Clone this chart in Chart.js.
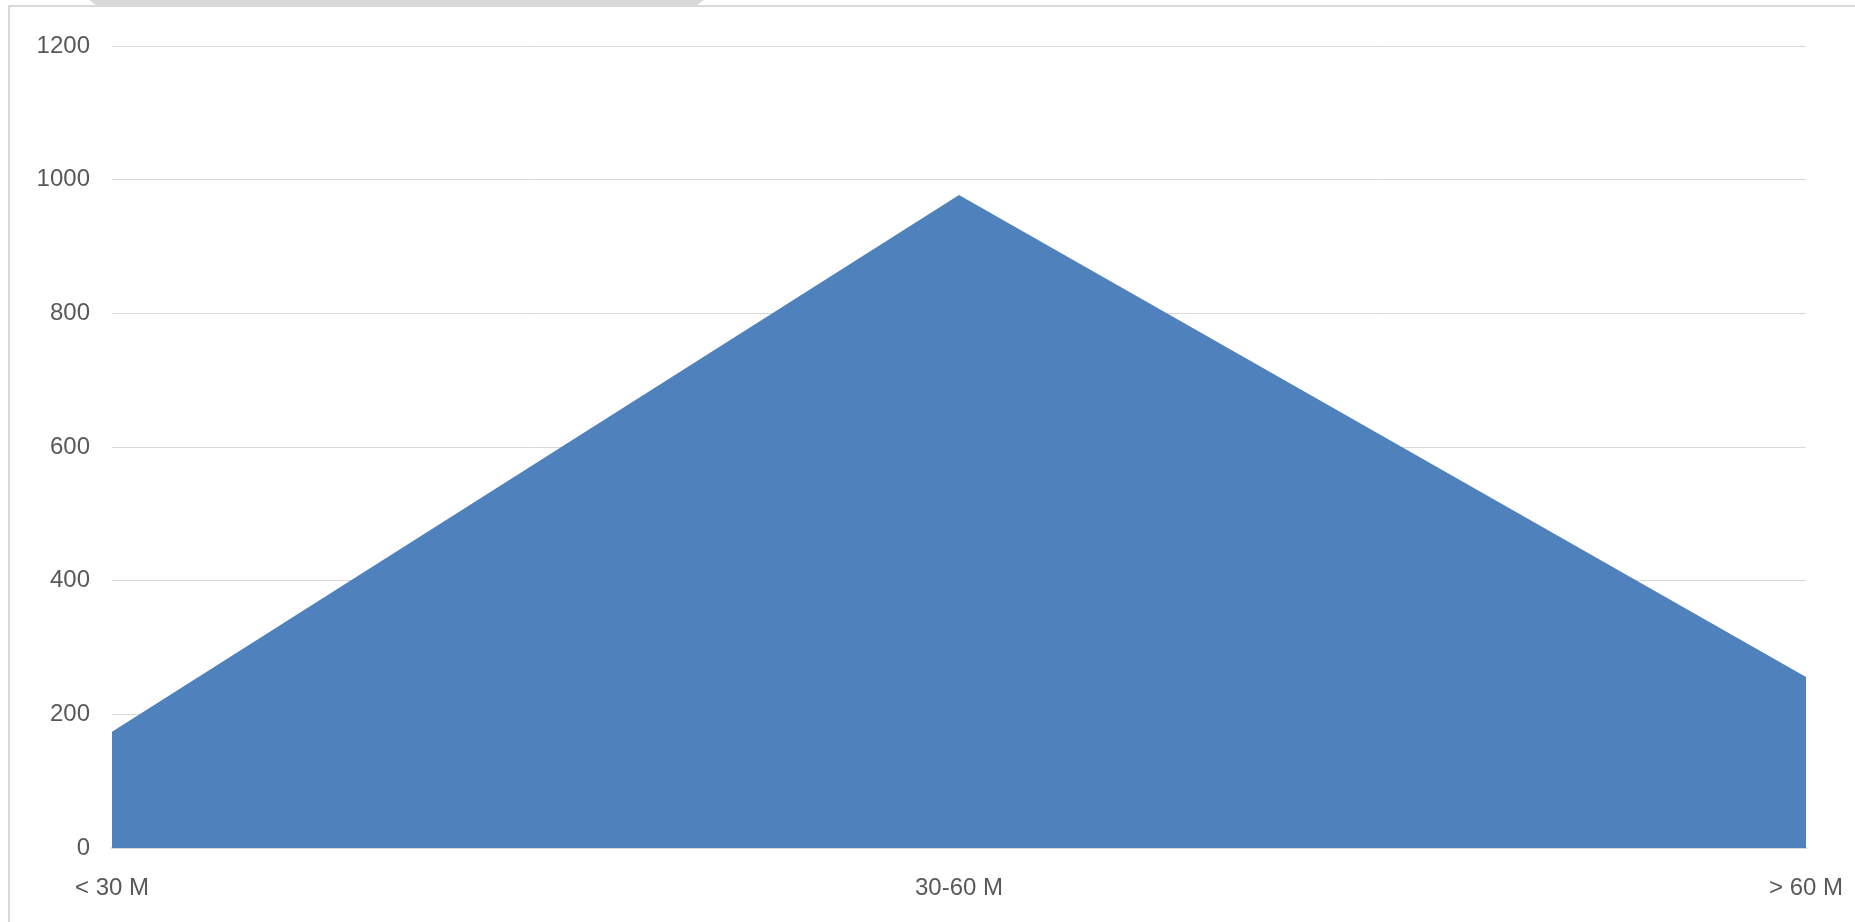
<!DOCTYPE html>
<html>
<head>
<meta charset="utf-8">
<script src="https://cdn.jsdelivr.net/npm/chart.js@4/dist/chart.umd.min.js"></script>
<style>
  html, body { margin: 0; padding: 0; background: #fff; overflow: hidden; }
  #frame {
    position: absolute; left: 8px; top: 5px; width: 1860px; height: 930px;
    border: 2px solid #d9d9d9; box-sizing: border-box;
  }
  #tab {
    position: absolute; left: 89px; top: 0; width: 615px; height: 5px;
    background: #d9d9d9;
    clip-path: polygon(0 0, 100% 0, 98.9% 100%, 1.1% 100%);
  }
  #wrap { position: absolute; left: 0; top: 0; width: 1855px; height: 922px; }
</style>
</head>
<body>
<div id="frame"></div>
<div id="tab"></div>
<div id="wrap"><canvas id="area-chart" width="1855" height="922"></canvas></div>
<script>
// categorias e valores
const categories = ['< 30 M', '30-60 M', '> 60 M'];
const values = [174, 977, 256];
const yTicks = [0, 200, 400, 600, 800, 1000, 1200];

const textColor = '#595959';
const gridColor = '#d9d9d9';
const fontFamily = '"Liberation Sans", Arial, sans-serif';

const areaChart = document.getElementById('area-chart');

new Chart(areaChart, {
  type: 'line',
  data: {
    labels: categories,
    datasets: [
      {
        data: values,
        fill: 'origin',
        backgroundColor: '#4f81bd',
        borderWidth: 0,
        pointRadius: 0,
        tension: 0,
      },
    ],
  },
  options: {
    responsive: false,
    animation: false,
    devicePixelRatio: 1,
    layout: {
      padding: { top: 46, right: 49, bottom: 0, left: 0 },
    },
    plugins: {
      legend: { display: false },
      tooltip: { enabled: false },
    },
    scales: {
      x: {
        offset: false,
        z: 1,
        grid: { display: false, drawTicks: false },
        border: { display: true, color: gridColor, width: 2 },
        ticks: {
          color: textColor,
          font: { family: fontFamily, size: 24 },
          padding: 26,
          maxRotation: 0,
          autoSkip: false,
        },
        afterFit: (scale) => {
          scale.height = 74;
          // as margens laterais vêm do layout, não dos rótulos
          scale.paddingLeft = 0;
          scale.paddingRight = 0;
        },
      },
      y: {
        min: 0,
        max: 1200,
        grid: { color: gridColor, lineWidth: 1, drawTicks: false },
        border: { display: false },
        afterBuildTicks: (scale) => {
          scale.ticks = yTicks.map((v) => ({ value: v }));
        },
        ticks: {
          color: textColor,
          font: { family: fontFamily, size: 24 },
          padding: 22,
          callback: (value) => String(value),
        },
        afterFit: (scale) => { scale.width = 112; },
      },
    },
  },
});
</script>
</body>
</html>
